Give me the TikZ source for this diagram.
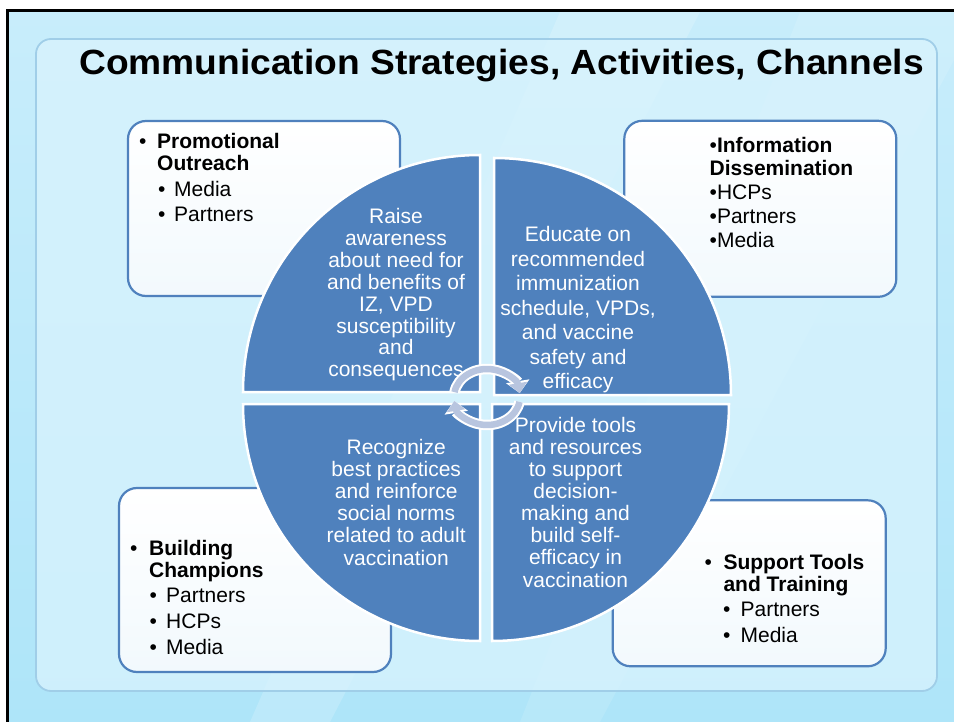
\documentclass[tikz,border=0pt]{standalone}
\usepackage{fontspec}
\setmainfont{Liberation Sans}
\usetikzlibrary{arrows.meta}
\definecolor{quadblue}{RGB}{79,129,189}
\definecolor{slidetop}{RGB}{200,237,251}
\definecolor{slidebot}{RGB}{174,229,249}
\definecolor{panelB}{RGB}{216,243,253}
\definecolor{panelline}{RGB}{160,206,232}
\definecolor{boxlow}{RGB}{242,249,253}
\definecolor{ringcol}{RGB}{184,197,223}
\tikzset{
  quadrant/.style={fill=quadblue, draw=white, line width=2.5pt},
  qtext/.style={text=white, align=center, inner sep=0pt, anchor=base},
  infobox/.style={draw=quadblue, line width=2.2pt, rounded corners=18pt,
    top color=white, bottom color=boxlow, inner sep=0pt},
  btext/.style={align=left, inner sep=0pt, anchor=base west,
    font=\fontsize{21}{22}\selectfont},
}
\newcommand{\bul}[1]{\makebox[#1][l]{\mdseries •}}
\begin{document}
\begin{tikzpicture}[x=1pt,y=-1pt]
\useasboundingbox (0,0) rectangle (954,722);
\fill[white] (0,0) rectangle (954,722);
% slide background
\shade[top color=slidetop, bottom color=slidebot] (9,12) rectangle (954,722);
\fill[white, opacity=0.18] (560,12) -- (700,12) -- (330,722) -- (250,722) -- cycle;
\fill[white, opacity=0.12] (800,12) -- (954,12) -- (954,60) -- (600,722) -- (520,722) -- cycle;
\draw[black, line width=3pt] (7.5,722) -- (7.5,11) -- (954,11);
% panel
\path[rounded corners=15pt, fill=panelB, fill opacity=0.78, draw=panelline, line width=1.8pt] (36,39) rectangle (937,691);
% title
\node[anchor=base west, inner sep=0pt, font=\bfseries\fontsize{35}{38}\selectfont] (title) at (79,74.5) {\scalebox{1.062}[1]{Communication Strategies, Activities, Channels}};
% boxes
\node[infobox, minimum width=272pt, minimum height=175pt] (boxTL) at (264,208.5) {};
\node[infobox, minimum width=272pt, minimum height=176pt] (boxTR) at (760.3,208.8) {};
\node[infobox, minimum width=272pt, minimum height=184pt] (boxBL) at (255,580) {};
\node[infobox, minimum width=273pt, minimum height=166pt] (boxBR) at (749.2,583.3) {};
% quadrants
\path[quadrant] (480,392) -- ++(180:237) arc[start angle=180, end angle=270, radius=237] -- cycle;
\path[quadrant] (494,395) -- ++(270:237) arc[start angle=270, end angle=360, radius=237] -- cycle;
\path[quadrant] (492,404) -- ++(0:237) arc[start angle=0, end angle=90, radius=237] -- cycle;
\path[quadrant] (480,404) -- ++(90:237) arc[start angle=90, end angle=180, radius=237] -- cycle;
% quadrant texts (anchored at the last line's baseline)
\node[qtext, font=\fontsize{21}{21.9}\selectfont] (qTL) at (396,376.8) {Raise\\awareness\\about need for\\and benefits of\\IZ, VPD\\susceptibility\\and\\consequences};
\node[qtext, font=\fontsize{21}{24.5}\selectfont] (qTR) at (578,388.6) {Educate on\\recommended\\immunization\\schedule, VPDs,\\and vaccine\\safety and\\efficacy};
\node[qtext, font=\fontsize{21}{22.1}\selectfont] (qBL) at (396.2,565) {Recognize\\best practices\\and reinforce\\social norms\\related to adult\\vaccination};
\node[qtext, font=\fontsize{21}{22.1}\selectfont] (qBR) at (575.5,587) {Provide tools\\and resources\\to support\\decision-\\making and\\build self-\\efficacy in\\vaccination};
% center cycle arrows
\coordinate (cyc) at (487,397);
\draw[white, line width=10.5pt, -{Triangle[length=12pt,width=23pt]}] (cyc) ++(190:33 and 28) arc[start angle=190, end angle=352, x radius=33, y radius=28];
\draw[white, line width=10.5pt, -{Triangle[length=12pt,width=23pt]}] (cyc) ++(10:33 and 28) arc[start angle=10, end angle=172, x radius=33, y radius=28];
\draw[ringcol, line width=6.5pt, -{Triangle[length=10pt,width=18pt]}] (cyc) ++(190:33 and 28) arc[start angle=190, end angle=352, x radius=33, y radius=28];
\draw[ringcol, line width=6.5pt, -{Triangle[length=10pt,width=18pt]}] (cyc) ++(10:33 and 28) arc[start angle=10, end angle=172, x radius=33, y radius=28];
% box texts (anchored at the last line's baseline)
\node[btext] (tTL) at (139,222) {\textbf{\bul{18pt}Promotional}\\\textbf{\hspace*{18pt}Outreach}\\[3.7pt]\hspace*{19pt}\bul{16pt}Media\\[3.5pt]\hspace*{19pt}\bul{16pt}Partners};
\node[btext, font=\fontsize{21}{24}\selectfont] (tTR) at (709.5,248) {•\textbf{Information}\\\textbf{Dissemination}\\•HCPs\\•Partners\\•Media};
\node[btext] (tBL) at (130,654) {\textbf{\bul{19pt}Building}\\\textbf{\hspace*{19pt}Champions}\\[3.3pt]\hspace*{19.5pt}\bul{16.5pt}Partners\\[4pt]\hspace*{19.5pt}\bul{16.5pt}HCPs\\[3.2pt]\hspace*{19.5pt}\bul{16.5pt}Media};
\node[btext] (tBR) at (704.5,642) {\textbf{\bul{18.8pt}Support Tools}\\\textbf{\hspace*{18.8pt}and Training}\\[3.3pt]\hspace*{18.5pt}\bul{17.4pt}Partners\\[3.3pt]\hspace*{18.5pt}\bul{17.4pt}Media};
\end{tikzpicture}
\end{document}
